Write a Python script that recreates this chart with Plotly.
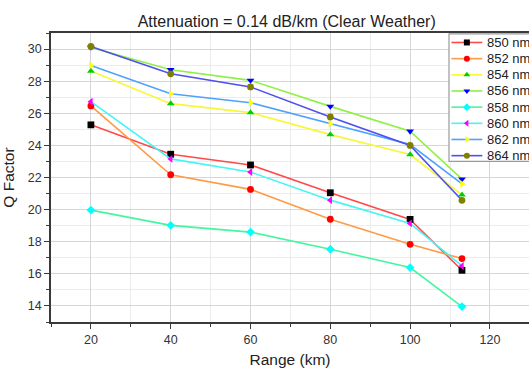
import plotly.graph_objects as go

# Link range (km) at which the Q factor was evaluated
range_km = [20, 40, 60, 80, 100, 113]

# Q factor per wavelength channel
q_850 = [25.28, 23.45, 22.78, 21.05, 19.39, 16.22]
q_852 = [26.46, 22.17, 21.26, 19.40, 17.84, 16.95]
q_854 = [28.63, 26.60, 26.04, 24.67, 23.43, 20.92]
q_856 = [30.10, 28.71, 28.05, 26.43, 24.88, 21.90]
q_858 = [19.97, 19.02, 18.60, 17.53, 16.39, 13.96]
q_860 = [26.72, 23.16, 22.34, 20.59, 19.14, 16.49]
q_862 = [28.98, 27.22, 26.66, 25.34, 24.05, 21.60]
q_864 = [30.16, 28.46, 27.64, 25.77, 24.00, 20.58]

labels = ["850 nm", "852 nm", "854 nm", "856 nm", "858 nm", "860 nm", "862 nm", "864 nm"]
series = [q_850, q_852, q_854, q_856, q_858, q_860, q_862, q_864]

line_colors = ["#ff4a4a", "#ff9a45", "#f7f73a", "#8ff045", "#45f5a0", "#45f5f5", "#4ea2ff", "#4f4ff0"]
marker_colors = ["#000000", "#ff0000", "#00d000", "#0000ff", "#00ffff", "#ff00ff", "#ffff00", "#808000"]
symbols = ["square", "circle", "triangle-up", "triangle-down", "diamond",
           "triangle-left", "triangle-right", "circle"]

FONT = "Arial, Liberation Sans, Helvetica, sans-serif"

fig = go.Figure()

for name, ys, lc, mc, sym in zip(labels, series, line_colors, marker_colors, symbols):
    fig.add_trace(go.Scatter(
        x=range_km, y=ys, name=name, mode="lines+markers",
        line=dict(color=lc, width=1.6),
        marker=dict(symbol=sym, color=mc, size=6.8, line=dict(width=0)),
        showlegend=False,
    ))

# Legend drawn inside the plot at the upper right, in axis units
leg_left, leg_top, leg_bottom = 109.75, 30.95, 23.01
row0, row_step = 30.41, 1.007
sample_x0, sample_x1, text_x = 110.35, 118.1, 118.85

fig.add_shape(type="rect", xref="x", yref="y",
              x0=leg_left, x1=140, y0=leg_bottom, y1=leg_top,
              fillcolor="white", line=dict(color="#9a9a9a", width=1.2),
              layer="between")

for i, (name, lc, mc, sym) in enumerate(zip(labels, line_colors, marker_colors, symbols)):
    yy = row0 - i * row_step
    fig.add_trace(go.Scatter(
        x=[sample_x0, sample_x1], y=[yy, yy], mode="lines",
        line=dict(color=lc, width=1.6), showlegend=False, hoverinfo="skip",
    ))
    fig.add_trace(go.Scatter(
        x=[(sample_x0 + sample_x1) / 2], y=[yy], mode="markers",
        marker=dict(symbol=sym, color=mc, size=6, line=dict(width=0)),
        showlegend=False, hoverinfo="skip",
    ))
    fig.add_annotation(x=text_x, y=yy, xref="x", yref="y", text=name,
                       showarrow=False, xanchor="left", yanchor="middle",
                       font=dict(family=FONT, size=13, color="#222222"))

axis_common = dict(
    showline=True, linecolor="#3a3a3a", linewidth=1.6,
    ticks="outside", ticklen=5, tickwidth=1.2, tickcolor="#3a3a3a",
    tickfont=dict(family=FONT, size=12.5, color="#333333"),
    showgrid=True, gridcolor="#d6d6d6", gridwidth=1,
    zeroline=False,
)

fig.update_xaxes(
    range=[10, 129.8], tick0=0, dtick=20, mirror=True,
    title=dict(text="Range (km)", font=dict(family=FONT, size=15.5, color="#222222"), standoff=8),
    minor=dict(dtick=10, tick0=0, ticks="outside", ticklen=3, tickcolor="#3a3a3a",
               showgrid=True, gridcolor="#ececec"),
    **axis_common,
)
fig.update_yaxes(
    range=[13, 31], tick0=0, dtick=2, mirror=False,
    title=dict(text="Q Factor", font=dict(family=FONT, size=15.5, color="#222222"), standoff=10),
    minor=dict(dtick=1, tick0=0, ticks="outside", ticklen=3, tickcolor="#3a3a3a",
               showgrid=True, gridcolor="#ececec"),
    **axis_common,
)

fig.update_layout(
    width=529, height=374,
    margin=dict(l=51, r=0, t=33, b=52, autoexpand=False),
    paper_bgcolor="white", plot_bgcolor="white",
    title=dict(text="Attenuation = 0.14 dB/km (Clear Weather)",
               x=0.542, xref="container", xanchor="center",
               y=1 - 21 / 374, yref="container", yanchor="middle",
               font=dict(family=FONT, size=16, color="#222222")),
    font=dict(family=FONT),
)

fig.write_html("out.html")
